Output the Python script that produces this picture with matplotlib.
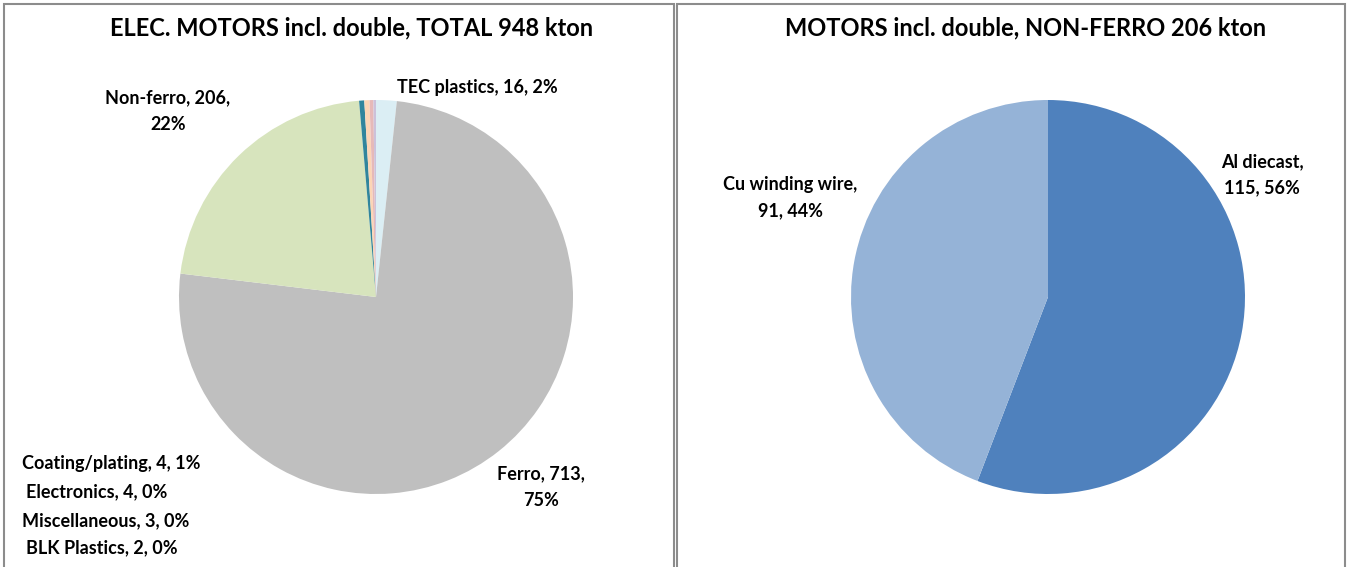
import matplotlib
matplotlib.use("Agg")
import matplotlib.pyplot as plt
from matplotlib.patches import Rectangle

plt.rcParams["font.family"] = ["Lato", "DejaVu Sans"]

# left pie: total motor mass split (kton)
total_labels = ["TEC plastics", "Ferro", "Non-ferro", "Coating/plating",
                "Electronics", "Miscellaneous", "BLK Plastics"]
total_values = [16, 713, 206, 4, 4, 3, 2]
total_pcts = ["2%", "75%", "22%", "1%", "0%", "0%", "0%"]
total_colors = ["#DBEEF4", "#BFBFBF", "#D7E4BD", "#31859C",
                "#FCD5B5", "#E6B9B8", "#CCC1DA"]

# right pie: non-ferro split (kton)
nf_labels = ["Al diecast", "Cu winding wire"]
nf_values = [115, 91]
nf_pcts = ["56%", "44%"]
nf_colors = ["#4F81BD", "#95B3D7"]

W, H = 1347, 567
fig = plt.figure(figsize=(W / 100, H / 100), dpi=100)

# panel frames
for x0, x1 in [(4, 674), (677, 1345)]:
    fig.patches.append(Rectangle((x0 / W, -0.05), (x1 - x0) / W, (H - 4) / H + 0.05,
                                 transform=fig.transFigure, fill=False,
                                 edgecolor="#8C8C8C", linewidth=1.5))


def pie_axes(cx, cy, r):
    ax = fig.add_axes([(cx - r) / W, (H - cy - r) / H, 2 * r / W, 2 * r / H])
    return ax


def lab(x, y, s, ha="center"):
    fig.text(x / W, 1 - y / H, s, ha=ha, va="center", fontsize=13,
             fontweight="bold", linespacing=1.65)


ax1 = pie_axes(376, 297, 197)
ax1.pie(total_values, colors=total_colors, startangle=90, counterclock=False,
        radius=1, wedgeprops=dict(linewidth=0))

ax2 = pie_axes(1048, 297, 197)
ax2.pie(nf_values, colors=nf_colors, startangle=90, counterclock=False,
        radius=1, wedgeprops=dict(linewidth=0))

for ax in (ax1, ax2):
    ax.set_xlim(-1, 1)
    ax.set_ylim(-1, 1)
    ax.axis("off")

fig.text(352 / W, 1 - 28 / H, "ELEC. MOTORS incl. double, TOTAL 948 kton",
         ha="center", va="center", fontsize=17, fontweight="bold")
fig.text(1026 / W, 1 - 28 / H, "MOTORS incl. double, NON-FERRO 206 kton",
         ha="center", va="center", fontsize=17, fontweight="bold")

t = {n: f"{n}, {v}, {p}" for n, v, p in zip(total_labels, total_values, total_pcts)}
lab(477, 88, t["TEC plastics"])
lab(168, 111, f"Non-ferro, {total_values[2]},\n{total_pcts[2]}")
lab(541, 487, f"Ferro, {total_values[1]},\n{total_pcts[1]}")
lab(22, 463, t["Coating/plating"], ha="left")
lab(26, 492, t["Electronics"], ha="left")
lab(22, 521, t["Miscellaneous"], ha="left")
lab(26, 548, t["BLK Plastics"], ha="left")

lab(790, 198, f"{nf_labels[1]},\n{nf_values[1]}, {nf_pcts[1]}")
lab(1262, 175, f"{nf_labels[0]},\n{nf_values[0]}, {nf_pcts[0]}")

fig.savefig("out.png", dpi=100)
